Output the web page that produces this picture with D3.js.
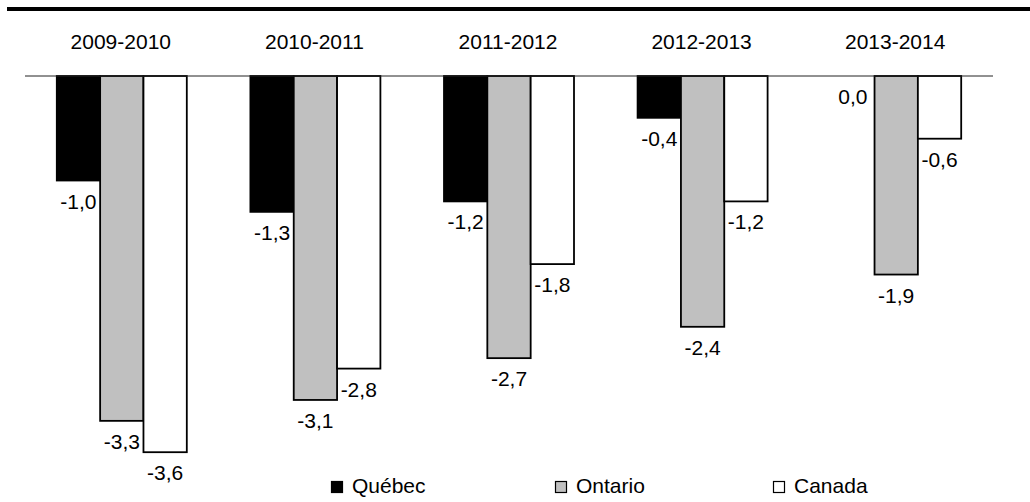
<!DOCTYPE html>
<html>
<head>
<meta charset="utf-8">
<script src="https://cdn.jsdelivr.net/npm/d3@7"></script>
<style>
  html, body { margin: 0; padding: 0; background: #fff; }
  svg { display: block; font-family: "Liberation Sans", Arial, sans-serif; font-weight: normal; }
</style>
</head>
<body>
<svg id="chart" width="1030" height="502"></svg>
<script>
const categories = ["2009-2010", "2010-2011", "2011-2012", "2012-2013", "2013-2014"];
const seriesNames = ["Québec", "Ontario", "Canada"];
const quebec  = [-1.0, -1.3, -1.2, -0.4, 0.0];
const ontario = [-3.3, -3.1, -2.7, -2.4, -1.9];
const canada  = [-3.6, -2.8, -1.8, -1.2, -0.6];
const seriesValues = [quebec, ontario, canada];
const fills = ["#000000", "#c0c0c0", "#ffffff"];

const svg = d3.select("#chart");
const fmt = v => d3.format(".1f")(v).replace(".", ",").replace("−", "-");

// top rule
svg.append("line").attr("x1", 7).attr("x2", 1030).attr("y1", 9).attr("y2", 9)
  .attr("stroke", "#000").attr("stroke-width", 4);

const x0 = d3.scaleBand().domain(categories).range([25, 993]).paddingInner(0).paddingOuter(0);
const inner = 130;
const x1 = d3.scaleBand().domain(seriesNames).range([0, inner]);
const y = d3.scaleLinear().domain([0, -4]).range([76, 76 + 4 * 104.5]);

// category labels
svg.append("g").selectAll("text").data(categories).join("text")
  .attr("x", d => x0(d) + x0.bandwidth() / 2 - 1)
  .attr("y", 49)
  .attr("text-anchor", "middle")
  .attr("font-size", 21)
  .attr("fill", "#000")
  .text(d => d);

const data = [];
categories.forEach((c, i) => {
  seriesNames.forEach((s, j) => {
    data.push({ cat: c, series: s, value: seriesValues[j][i], j });
  });
});

const groupOffset = (x0.bandwidth() - inner) / 2;

svg.append("g").selectAll("rect").data(data).join("rect")
  .attr("x", d => x0(d.cat) + groupOffset + x1(d.series))
  .attr("y", d => y(0))
  .attr("width", x1.bandwidth())
  .attr("height", d => y(d.value) - y(0))
  .attr("fill", d => fills[d.j])
  .attr("stroke", "#000")
  .attr("stroke-width", d => d.value === 0 ? 0 : 1.8);

// baseline
svg.append("line").attr("x1", 25).attr("x2", 993).attr("y1", y(0)).attr("y2", y(0))
  .attr("stroke", "#222").attr("stroke-width", 1);

// value labels
svg.append("g").selectAll("text").data(data).join("text")
  .attr("x", d => x0(d.cat) + groupOffset + x1(d.series) + x1.bandwidth() / 2)
  .attr("y", d => y(d.value) + 28)
  .attr("text-anchor", "middle")
  .attr("font-size", 21)
  .attr("fill", "#000")
  .text(d => fmt(d.value));

// legend
const legendX = [331, 555, 773];
const lg = svg.append("g").selectAll("g").data(seriesNames).join("g")
  .attr("transform", (d, i) => `translate(${legendX[i]},0)`);
lg.append("rect").attr("x", 0.5).attr("y", 481.5).attr("width", 11).attr("height", 11)
  .attr("fill", (d, i) => fills[i]).attr("stroke", "#000").attr("stroke-width", 1.2);
lg.append("text").attr("x", 21).attr("y", 493).attr("font-size", 21).attr("fill", "#000")
  .text(d => d);
</script>
</body>
</html>
